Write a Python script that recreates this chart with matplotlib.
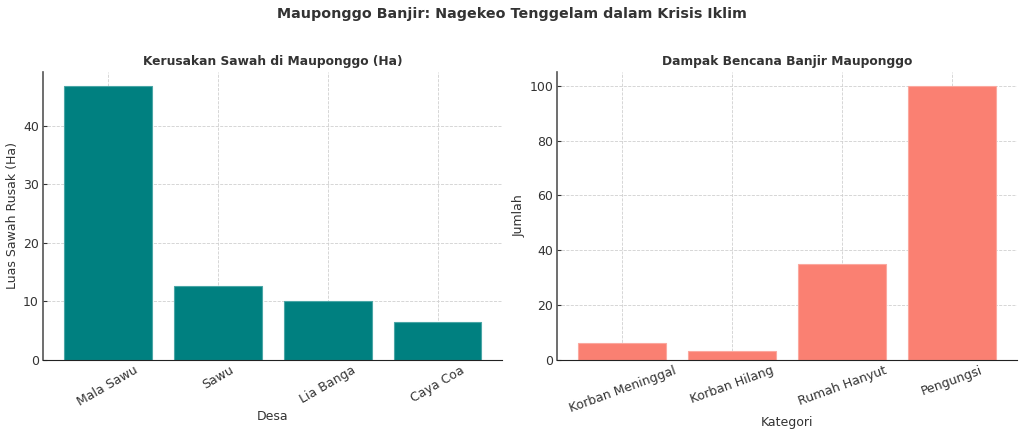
import matplotlib
matplotlib.use("Agg")
import matplotlib.pyplot as plt

desa = ["Mala Sawu", "Sawu", "Lia Banga", "Caya Coa"]
luas_rusak = [46.8, 12.6, 10.1, 6.5]

kategori = ["Korban Meninggal", "Korban Hilang", "Rumah Hanyut", "Pengungsi"]
jumlah = [6, 3, 35, 100]

text_color = "#333333"
plt.rcParams["font.family"] = "DejaVu Sans"
plt.rcParams["text.color"] = text_color
plt.rcParams["axes.labelcolor"] = text_color
plt.rcParams["xtick.color"] = text_color
plt.rcParams["ytick.color"] = text_color

fig, (ax1, ax2) = plt.subplots(1, 2, figsize=(10.24, 4.37), dpi=100)
fig.subplots_adjust(left=0.042, right=0.993, top=0.835, bottom=0.177, wspace=0.12)

fig.suptitle("Mauponggo Banjir: Nagekeo Tenggelam dalam Krisis Iklim",
             fontsize=10.3, fontweight="bold", y=0.985)

ax1.bar(desa, luas_rusak, color="#008080", edgecolor="#4aa6a6", linewidth=0.8, zorder=2)
ax1.set_title("Kerusakan Sawah di Mauponggo (Ha)", fontsize=8.8, fontweight="bold", pad=5)
ax1.set_xlabel("Desa", fontsize=9, labelpad=1)
ax1.set_ylabel("Luas Sawah Rusak (Ha)", fontsize=9, labelpad=3)
ax1.tick_params(axis="x", labelrotation=30)

ax2.bar(kategori, jumlah, color="#FA8072", edgecolor="#fba89f", linewidth=0.8, zorder=2)
ax2.set_title("Dampak Bencana Banjir Mauponggo", fontsize=8.8, fontweight="bold", pad=5)
ax2.set_xlabel("Kategori", fontsize=9, labelpad=1)
ax2.set_ylabel("Jumlah", fontsize=9, labelpad=3)
ax2.tick_params(axis="x", labelrotation=20)

for ax in (ax1, ax2):
    ax.tick_params(direction="in", length=3, labelsize=9, pad=3)
    ax.grid(True, linestyle="--", linewidth=0.6, color="#d0d0d0", zorder=0)
    ax.set_axisbelow(True)
    ax.spines["top"].set_visible(False)
    ax.spines["right"].set_visible(False)
    ax.spines["left"].set_color("#555555")
    ax.spines["left"].set_linewidth(1.2)
    ax.spines["bottom"].set_color("#222222")
    for lbl in ax.get_xticklabels():
        lbl.set_ha("center")

fig.savefig("out.png", dpi=100)
